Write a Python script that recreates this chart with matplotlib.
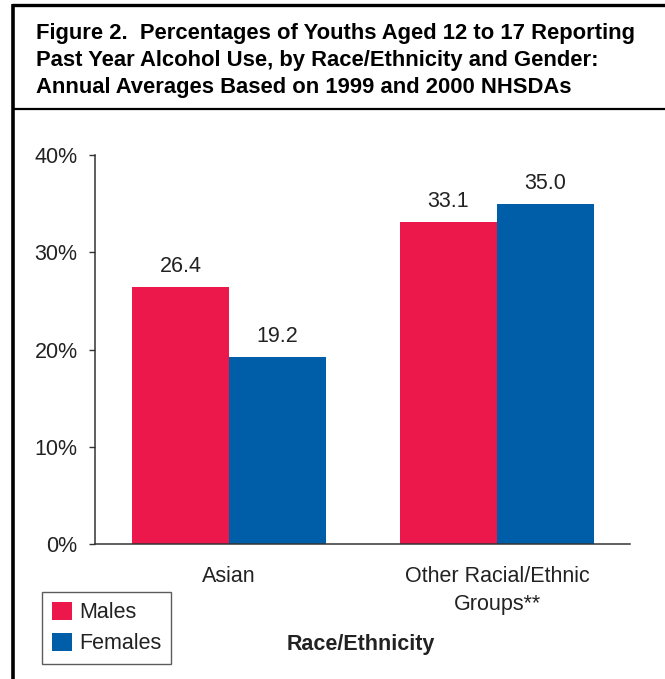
import matplotlib
matplotlib.use("Agg")
import matplotlib.pyplot as plt
from matplotlib.patches import Patch
from matplotlib.lines import Line2D
import numpy as np

plt.rcParams['font.family'] = ['Liberation Sans', 'DejaVu Sans']

# Data
categories = ["Asian", "Other Racial/Ethnic\nGroups**"]
series_names = ["Males", "Females"]
males = [26.4, 33.1]
females = [19.2, 35.0]
y_ticks = [0, 10, 20, 30, 40]
y_tick_labels = ["0%", "10%", "20%", "30%", "40%"]

title_lines = [
    "Figure 2.  Percentages of Youths Aged 12 to 17 Reporting",
    "Past Year Alcohol Use, by Race/Ethnicity and Gender:",
    "Annual Averages Based on 1999 and 2000 NHSDAs",
]
x_title = "Race/Ethnicity"

RED = "#EC184B"
BLUE = "#005EA8"
TXT = "#222222"
FS = 15.5

W, H = 665, 679
fig = plt.figure(figsize=(W / 100, H / 100), dpi=100)


def fx(px):
    return px / W


def fy(py):
    return 1 - py / H


# Frame around the figure panel and the title divider
frame_kw = dict(color="black", transform=fig.transFigure, solid_capstyle="butt")
fig.add_artist(Line2D([fx(13), fx(13)], [fy(4), 0], lw=2.6, **frame_kw))
fig.add_artist(Line2D([fx(12), 1], [fy(5), fy(5)], lw=2.4, **frame_kw))
fig.add_artist(Line2D([fx(12), 1], [fy(108.5), fy(108.5)], lw=1.6, **frame_kw))

# Title
for i, line in enumerate(title_lines):
    fig.text(fx(36), fy(39 + i * 27), line, fontsize=15.8, fontweight="bold",
             color="black", va="baseline", ha="left")

# Plot area
ax = fig.add_axes([fx(95), fy(544), fx(630) - fx(95), fy(155) - fy(544)])
gap = 2.76
x = np.arange(len(categories)) * gap
bw = 1.0
bm = ax.bar(x - bw / 2, males, bw, color=RED, label=series_names[0])
bf = ax.bar(x + bw / 2, females, bw, color=BLUE, label=series_names[1])

ax.set_xlim(x[0] - 1.38, x[-1] + 1.37)
ax.set_ylim(0, 40)
ax.set_yticks(y_ticks)
ax.set_yticklabels(y_tick_labels, fontsize=FS, color=TXT)
ax.tick_params(axis="y", direction="out", length=4.5, width=1, color="#333333", pad=8)
ax.set_xticks([])
for s in ["top", "right"]:
    ax.spines[s].set_visible(False)
for s in ["left", "bottom"]:
    ax.spines[s].set_color("#333333")
    ax.spines[s].set_linewidth(1.1)

# Value labels above bars
for bars, vals in ((bm, males), (bf, females)):
    for b, v in zip(bars, vals):
        ax.annotate(f"{v:.1f}", (b.get_x() + b.get_width() / 2, v),
                    xytext=(0, 10.8), textcoords="offset points",
                    ha="center", va="baseline", fontsize=FS, color=TXT)

# Category labels below the axis, one line at a time
for xi, cat in zip(x, categories):
    for j, part in enumerate(cat.split("\n")):
        ax.annotate(part, (xi, 0), xytext=(0, -27.4 - j * 20.2),
                    textcoords="offset points", ha="center", va="baseline",
                    fontsize=FS, color=TXT, annotation_clip=False)

fig.text(fx(361), fy(650), x_title, fontsize=FS, fontweight="bold",
         color=TXT, ha="center", va="baseline")

# Legend
handles = [Patch(facecolor=RED, edgecolor="none"), Patch(facecolor=BLUE, edgecolor="none")]
leg = fig.legend(handles, series_names, loc="upper left",
                 bbox_to_anchor=(fx(42), fy(592)), fontsize=FS,
                 frameon=True, fancybox=False, handlelength=0.93, handleheight=0.93,
                 handletextpad=0.35, labelspacing=0.45, borderpad=0.45,
                 borderaxespad=0)
leg.get_frame().set_edgecolor("#333333")
leg.get_frame().set_linewidth(1.0)
for t in leg.get_texts():
    t.set_color(TXT)

fig.savefig("out.png", dpi=100)
